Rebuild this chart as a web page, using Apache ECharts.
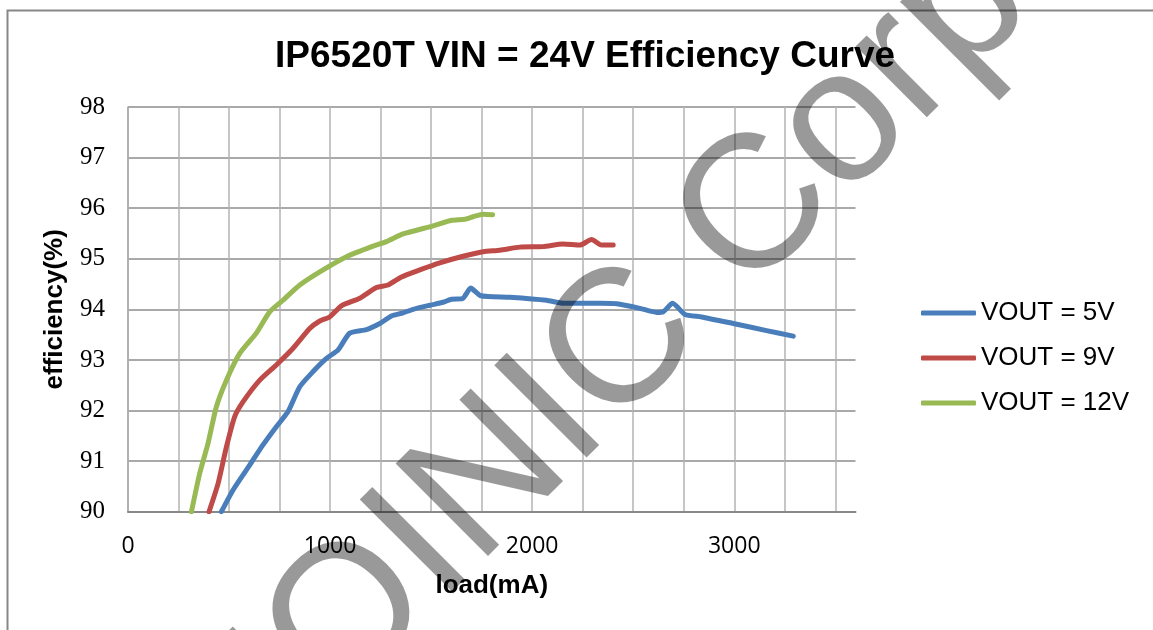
<!DOCTYPE html>
<html>
<head>
<meta charset="utf-8">
<script src="https://cdn.jsdelivr.net/npm/echarts@6/dist/echarts.min.js"></script>
<style>
  html, body { margin: 0; padding: 0; background: #fff; }
  #chart { width: 1153px; height: 630px; }
</style>
</head>
<body>
<div id="chart"></div>
<script>
// load (mA) / efficiency (%)
let load5V = [462, 520, 602, 668, 734, 792, 850, 916, 982, 1040, 1097, 1180, 1246, 1304, 1361, 1411, 1493, 1559, 1601, 1655, 1696, 1745, 1889, 2071, 2153, 2335, 2418, 2533, 2616, 2648, 2695, 2756, 2838, 2995, 3160, 3292];
let eff5V = [90.0, 90.43, 90.92, 91.32, 91.68, 91.98, 92.47, 92.77, 93.03, 93.2, 93.53, 93.6, 93.72, 93.87, 93.93, 94.0, 94.08, 94.14, 94.2, 94.21, 94.42, 94.27, 94.24, 94.18, 94.12, 94.12, 94.11, 94.02, 93.94, 93.95, 94.12, 93.9, 93.85, 93.72, 93.58, 93.47];

let load9V = [401, 446, 487, 528, 569, 652, 734, 817, 899, 949, 998, 1056, 1147, 1229, 1287, 1353, 1444, 1543, 1658, 1757, 1840, 1939, 2054, 2153, 2236, 2294, 2343, 2401];
let eff9V = [90.0, 90.56, 91.28, 91.88, 92.17, 92.6, 92.9, 93.23, 93.62, 93.77, 93.85, 94.07, 94.22, 94.43, 94.48, 94.64, 94.78, 94.92, 95.05, 95.14, 95.17, 95.23, 95.24, 95.29, 95.27, 95.38, 95.27, 95.27];

let load12V = [314, 355, 396, 437, 487, 553, 635, 701, 767, 850, 949, 1081, 1213, 1279, 1361, 1510, 1601, 1667, 1708, 1757, 1804];
let eff12V = [90.0, 90.76, 91.35, 92.07, 92.6, 93.13, 93.53, 93.95, 94.18, 94.48, 94.74, 95.04, 95.25, 95.34, 95.49, 95.65, 95.76, 95.78, 95.83, 95.88, 95.87];

let seriesNames = ['VOUT = 5V', 'VOUT = 9V', 'VOUT = 12V'];
let colors = ['#4a7ebb', '#be4b48', '#98b954'];

function zip(xs, ys) {
    let res = [];
    for (let i = 0; i < xs.length; i++) {
        res.push([xs[i], ys[i]]);
    }
    return res;
}

function lineSeries(name, color, data) {
    return {
        name: name,
        type: 'line',
        data: data,
        showSymbol: false,
        symbol: 'none',
        smooth: 0.2,
        lineStyle: { width: 5, color: color, cap: 'round', join: 'round' },
        itemStyle: { color: color }
    };
}

let myChart = echarts.init(document.getElementById('chart'));

let option = {
    animation: false,
    color: colors,
    title: {
        text: 'IP6520T VIN = 24V Efficiency Curve',
        left: 270,
        top: 33,
        textStyle: {
            fontFamily: 'Liberation Sans',
            fontWeight: 'bold',
            fontSize: 37,
            color: '#000'
        }
    },
    legend: {
        orient: 'vertical',
        left: 916,
        top: 295,
        itemWidth: 55,
        itemHeight: 5,
        itemGap: 19,
        icon: 'roundRect',
        data: seriesNames,
        textStyle: {
            fontFamily: 'Liberation Sans',
            fontSize: 26,
            color: '#000'
        }
    },
    grid: {
        left: 128,
        top: 107,
        right: 297.5,
        bottom: 118.3
    },
    xAxis: {
        type: 'value',
        min: 0,
        max: 3600,
        interval: 250,
        name: 'load(mA)',
        nameLocation: 'middle',
        nameGap: 61,
        nameTextStyle: {
            fontFamily: 'Liberation Sans',
            fontWeight: 'bold',
            fontSize: 26,
            color: '#000'
        },
        axisLine: { show: true, lineStyle: { color: '#888', width: 2 } },
        axisTick: { show: false },
        axisLabel: {
            margin: 23,
            fontFamily: 'Open Sans',
            fontSize: 23,
            color: '#000',
            showMaxLabel: false,
            formatter: function (v) { return v % 1000 === 0 ? String(v) : ''; }
        },
        splitLine: {
            show: true,
            showMaxLine: false,
            lineStyle: { color: '#b3b3b3', width: 1.5 }
        }
    },
    yAxis: {
        type: 'value',
        min: 90,
        max: 98,
        interval: 1,
        name: 'efficiency(%)',
        nameLocation: 'middle',
        nameGap: 60,
        nameTextStyle: {
            fontFamily: 'Liberation Sans',
            fontWeight: 'bold',
            fontSize: 26,
            color: '#000'
        },
        axisLine: { show: true, lineStyle: { color: '#a8a8a8', width: 1.5 } },
        axisTick: { show: false },
        axisLabel: {
            margin: 23,
            fontFamily: 'Liberation Serif',
            fontSize: 25,
            color: '#000'
        },
        splitLine: {
            show: true,
            lineStyle: { color: '#8c8c8c', width: 1.5 }
        }
    },
    graphic: [
        {
            type: 'rect',
            z: 0,
            shape: { x: 7.5, y: 10.5, width: 1400, height: 1000 },
            style: { fill: 'none', stroke: '#878787', lineWidth: 2 }
        },
        {
            // watermark over the plot
            type: 'text',
            z: 100,
            x: 567,
            y: 403,
            rotation: Math.PI / 4,
            style: {
                text: 'INJOINIC Corp.',
                fontFamily: 'Liberation Sans',
                fontSize: 190,
                fill: 'rgba(0,0,0,0.4)',
                align: 'center',
                verticalAlign: 'middle'
            }
        }
    ],
    series: [
        lineSeries(seriesNames[0], colors[0], zip(load5V, eff5V)),
        lineSeries(seriesNames[1], colors[1], zip(load9V, eff9V)),
        lineSeries(seriesNames[2], colors[2], zip(load12V, eff12V))
    ]
};

myChart.setOption(option);
</script>
</body>
</html>
